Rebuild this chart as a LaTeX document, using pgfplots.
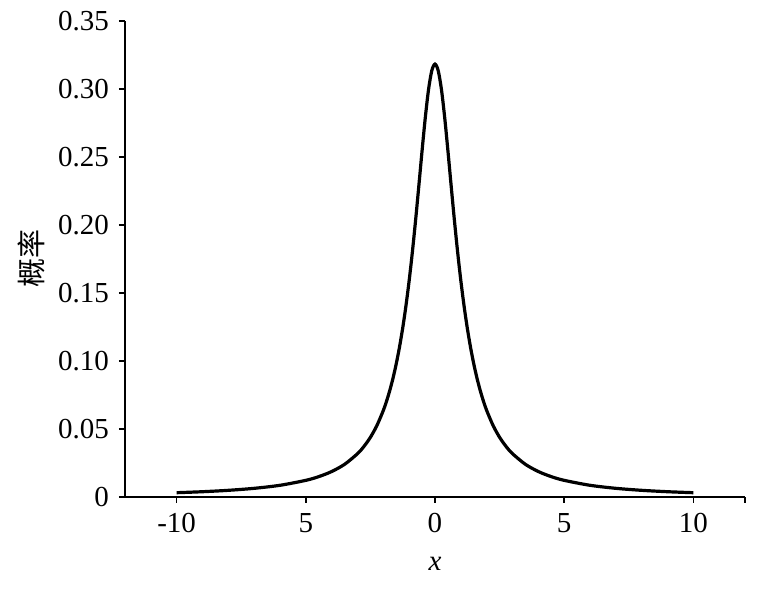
\documentclass[border=0pt]{standalone}
\usepackage{pgfplots}
\pgfplotsset{compat=1.18}
\usepackage{fontspec}
\setmainfont{Liberation Serif}
\newfontfamily\cjk{Noto Sans CJK SC}

\begin{document}
\fontsize{14.5}{16}\selectfont
\begin{tikzpicture}
\begin{axis}[
    scale only axis,
    width=310pt, height=238pt,
    xmin=-12, xmax=12,
    ymin=0, ymax=0.35,
    axis lines*=left,
    axis line style={line width=0.8pt},
    xtick={-10,-5,0,5,10,12},
    xticklabels={-10,5,0,5,10,},
    ytick={0,0.05,...,0.35},
    yticklabels={0,0.05,0.10,0.15,0.20,0.25,0.30,0.35},
    tick align=outside,
    tick style={line width=0.8pt, black},
    major tick length=3pt,
    /pgf/number format/assume math mode=true,
    xlabel={\textit{x}},
    ylabel={{\cjk 概率}},
    xlabel style={yshift=-2.5pt},
    ylabel style={yshift=-3pt},
    clip=false,
]
\addplot[black, line width=1.6pt, smooth] coordinates {
(-10,0.00315) (-9,0.00388) (-8,0.00490) (-7,0.00637) (-6,0.00860)
(-5,0.01224) (-4.5,0.01498) (-4,0.01872) (-3.5,0.02402) (-3,0.03183)
(-2.75,0.03717) (-2.5,0.04390) (-2.25,0.05250) (-2,0.06366) (-1.875,0.07049)
(-1.75,0.07835) (-1.625,0.08743) (-1.5,0.09794) (-1.375,0.11012) (-1.25,0.12422)
(-1.125,0.14050) (-1,0.15915) (-0.875,0.18028) (-0.75,0.20372) (-0.625,0.22890)
(-0.5,0.25465) (-0.375,0.27907) (-0.25,0.29959) (-0.125,0.31341) (0,0.31831)
(0.125,0.31341) (0.25,0.29959) (0.375,0.27907) (0.5,0.25465) (0.625,0.22890)
(0.75,0.20372) (0.875,0.18028) (1,0.15915) (1.125,0.14050) (1.25,0.12422)
(1.375,0.11012) (1.5,0.09794) (1.625,0.08743) (1.75,0.07835) (1.875,0.07049)
(2,0.06366) (2.25,0.05250) (2.5,0.04390) (2.75,0.03717) (3,0.03183)
(3.5,0.02402) (4,0.01872) (4.5,0.01498) (5,0.01224) (6,0.00860)
(7,0.00637) (8,0.00490) (9,0.00388) (10,0.00315)
};
\path ([xshift=8pt,yshift=10.5pt]rel axis cs:1,1) coordinate (padne);
\path ([xshift=-62.5pt,yshift=-47pt]rel axis cs:0,0) coordinate (padsw);
\end{axis}
\end{tikzpicture}
\end{document}
